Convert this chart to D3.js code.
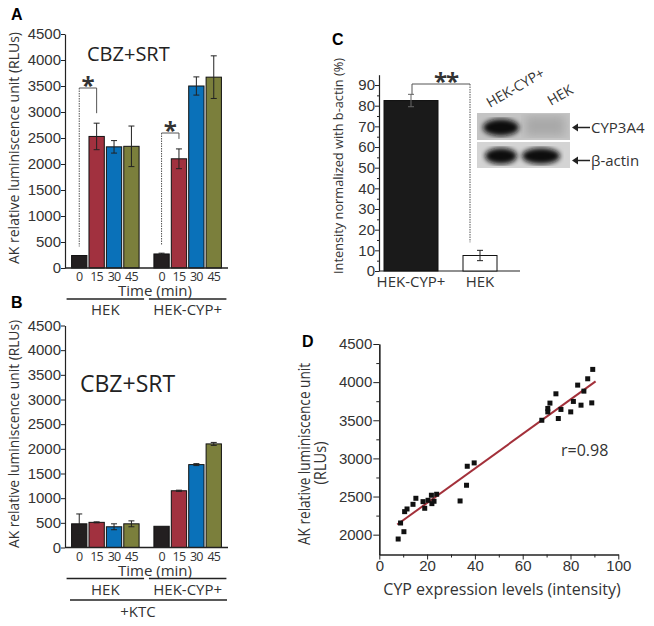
<!DOCTYPE html>
<html>
<head>
<meta charset="utf-8">
<script src="https://cdn.jsdelivr.net/npm/d3@7"></script>
<style>
  body { margin: 0; background: #fff; }
  svg { display: block; font-family: "Open Sans", sans-serif; }
  .tick text { font-size: 15px; fill: #333; }
  .tick line, .domain { stroke: #222; }
</style>
</head>
<body>
<div id="chart"></div>
<script>
"use strict";

// ---- data ----
var times = ["0", "15", "30", "45"];
var groups = ["HEK", "HEK-CYP+"];
var barColors = ["#231f20", "#a1313f", "#0a71b9", "#7b7f3c"];

// panel A : CBZ+SRT
var aHek = [240, 2530, 2330, 2340];
var aHekErr = [0, 255, 120, 390];
var aCyp = [270, 2100, 3500, 3670];
var aCypErr = [15, 190, 175, 410];

// panel B : CBZ+SRT +KTC
var bHek = [480, 510, 420, 480];
var bHekErr = [200, 10, 60, 60];
var bCyp = [430, 1150, 1680, 2100];
var bCypErr = [0, 12, 20, 30];

var abTicks = [0, 500, 1000, 1500, 2000, 2500, 3000, 3500, 4000, 4500];

// panel C
var cLabels = ["HEK-CYP+", "HEK"];
var cVals = [82.5, 7.5];
var cErr = [3, 2.5];
var cTicks = [0, 10, 20, 30, 40, 50, 60, 70, 80, 90];

// panel D : scatter
var dX = [7.9, 8.9, 10.3, 10.6, 11.6, 14.1, 15.3, 18.3, 19.0, 20.4, 21.8, 22.0, 22.9, 24.0,
          33.8, 36.5, 36.8, 39.7,
          68.0, 70.5, 70.5, 71.4, 73.9, 74.9, 76.0, 80.1, 81.2, 83.0, 84.4, 85.6, 87.2, 88.9, 89.3];
var dY = [1943, 2153, 2039, 2302, 2337, 2398, 2477, 2433, 2346, 2451, 2517, 2407, 2438, 2530,
          2442, 2648, 2897, 2941,
          3500, 3610, 3655, 3725, 3847, 3523, 3642, 3610, 3747, 3961, 3698, 3882, 4044, 3728, 4167];
var dXTicks = [0, 20, 40, 60, 80, 100];
var dYTicks = [2000, 2500, 3000, 3500, 4000, 4500];
var rText = "r=0.98";

var width = 654, height = 626;
var fmt = d3.format("d");

var svg = d3.select("#chart").append("svg")
  .attr("width", width)
  .attr("height", height);

function panelLetter(t, x, y) {
  svg.append("text").attr("x", x).attr("y", y)
    .attr("font-family", "Liberation Sans, Arial, sans-serif")
    .attr("font-weight", "bold").attr("font-size", 16)
    .text(t);
}

// rotated axis title, squeezed to the length seen in the figure
function yLabel(t, x, y, size, len) {
  svg.append("text")
    .attr("transform", "translate(" + x + "," + y + ") rotate(-90)")
    .attr("text-anchor", "middle")
    .attr("font-size", size)
    .attr("fill", "#333")
    .attr("textLength", len)
    .attr("lengthAdjust", "spacingAndGlyphs")
    .text(t);
}

// grouped bar panel (A and B)
function barPanel(opt) {
  var xg = d3.scaleBand().domain(groups).range([65, 228]).paddingInner(0.18).paddingOuter(0.08);
  var xt = d3.scaleBand().domain(times).range([0, xg.bandwidth()]).paddingInner(0.12);
  var y = d3.scaleLinear().domain([0, 4500]).range([opt.y0, opt.y1]);

  svg.append("g")
    .attr("transform", "translate(65,0)")
    .call(d3.axisLeft(y).tickValues(abTicks).tickFormat(fmt).tickSize(4).tickSizeOuter(0).tickPadding(0));

  var series = [
    { g: "HEK", v: opt.hek, e: opt.hekErr },
    { g: "HEK-CYP+", v: opt.cyp, e: opt.cypErr }
  ];

  series.forEach(function(s) {
    var gx = xg(s.g);
    var gr = svg.append("g").attr("transform", "translate(" + gx + ",0)");
    gr.selectAll("rect").data(s.v).enter().append("rect")
      .attr("x", function(d, i) { return xt(times[i]); })
      .attr("y", function(d) { return y(d); })
      .attr("width", xt.bandwidth())
      .attr("height", function(d) { return y(0) - y(d); })
      .attr("fill", function(d, i) { return barColors[i]; })
      .attr("stroke", "#111").attr("stroke-width", 1);
    // error bars
    gr.selectAll("g.err").data(s.v).enter().append("g").attr("class", "err")
      .each(function(d, i) {
        var e = s.e[i];
        if (!e) return;
        var cx = xt(times[i]) + xt.bandwidth() / 2;
        var g = d3.select(this);
        g.append("line").attr("x1", cx).attr("x2", cx).attr("y1", y(d + e)).attr("y2", y(d - e));
        g.append("line").attr("x1", cx - 3).attr("x2", cx + 3).attr("y1", y(d + e)).attr("y2", y(d + e));
        g.append("line").attr("x1", cx - 3).attr("x2", cx + 3).attr("y1", y(d - e)).attr("y2", y(d - e));
      })
      .attr("stroke", "#222").attr("stroke-width", 1);
    // time labels
    gr.selectAll("text.t").data(times).enter().append("text")
      .attr("x", function(d) { return xt(d) + xt.bandwidth() / 2; })
      .attr("y", y(0) + 13)
      .attr("text-anchor", "middle").attr("font-size", 12.5).attr("letter-spacing", -0.8)
      .attr("fill", "#333")
      .text(function(d) { return d; });
    // group line + label
    svg.append("line")
      .attr("x1", gx - 5).attr("x2", gx + xg.bandwidth() + 5)
      .attr("y1", y(0) + 31).attr("y2", y(0) + 31)
      .attr("stroke", "#222").attr("stroke-width", 1.5);
    svg.append("text")
      .attr("x", gx + xg.bandwidth() / 2).attr("y", y(0) + 47)
      .attr("text-anchor", "middle").attr("font-size", 15).attr("fill", "#333")
      .text(s.g);
  });

  // x axis line
  svg.append("line").attr("x1", 65).attr("x2", 228).attr("y1", y(0)).attr("y2", y(0))
    .attr("stroke", "#222").attr("stroke-width", 1.5);

  svg.append("text").attr("x", 155).attr("y", y(0) + 28)
    .attr("text-anchor", "middle").attr("font-size", 15).attr("fill", "#333")
    .text("Time (min)");

  svg.append("text").attr("x", opt.titleX).attr("y", opt.titleY)
    .attr("font-size", opt.titleSize).attr("fill", "#222")
    .text("CBZ+SRT");

  yLabel("AK relative luminiscence unit (RLUs)", 19, opt.labelY, 15, opt.labelLen);

  return { xg: xg, xt: xt, y: y };
}

// ---- panel A ----
panelLetter("A", 11, 20);
var A = barPanel({ y0: 268, y1: 34, hek: aHek, hekErr: aHekErr, cyp: aCyp, cypErr: aCypErr,
                   titleX: 87, titleY: 61, titleSize: 20, labelY: 148, labelLen: 232 });

function sigBracket(P, g, v0, v1, e1, topY, star) {
  var x0 = P.xg(g) + P.xt(times[0]) + P.xt.bandwidth() / 2;
  var x1 = P.xg(g) + P.xt(times[1]) + P.xt.bandwidth() / 2;
  svg.append("line").attr("x1", x0).attr("x2", x0).attr("y1", topY).attr("y2", P.y(v0) - 9)
    .attr("stroke", "#555").attr("stroke-dasharray", "1.5,1");
  svg.append("polyline")
    .attr("points", [[x0, topY], [x1, topY], [x1, P.y(v1 + e1) - 10]].join(" "))
    .attr("fill", "none").attr("stroke", "#555");
  svg.append("text").attr("x", (x0 + x1) / 2).attr("y", topY + 6)
    .attr("text-anchor", "middle").attr("font-size", 24).attr("font-weight", "bold")
    .attr("fill", "#333").text(star);
}
sigBracket(A, "HEK", aHek[0], aHek[1], aHekErr[1], 88, "*");
sigBracket(A, "HEK-CYP+", aCyp[0], aCyp[1], aCypErr[1], 133, "*");

// ---- panel B ----
panelLetter("B", 11, 308);
var B = barPanel({ y0: 547.5, y1: 325.5, hek: bHek, hekErr: bHekErr, cyp: bCyp, cypErr: bCypErr,
                   titleX: 80, titleY: 392, titleSize: 23, labelY: 434, labelLen: 228 });
svg.append("line").attr("x1", 70).attr("x2", 227).attr("y1", 600).attr("y2", 600)
  .attr("stroke", "#222").attr("stroke-width", 1.5);
svg.append("text").attr("x", 138).attr("y", 617).attr("text-anchor", "middle")
  .attr("font-size", 15).attr("fill", "#333").text("+KTC");

// ---- panel C ----
panelLetter("C", 332, 45);
var yC = d3.scaleLinear().domain([0, 95]).range([271, 74.7]);
var xC = d3.scalePoint().domain(cLabels).range([411, 480]);
var cBarW = [54, 34];

svg.append("g").attr("transform", "translate(379,0)")
  .call(d3.axisLeft(yC).tickValues(d3.range(5, 95, 10)).tickSize(2).tickSizeOuter(0).tickFormat(""));
svg.append("g").attr("transform", "translate(379,0)")
  .call(d3.axisLeft(yC).tickValues(cTicks).tickSize(4).tickSizeOuter(0).tickPadding(0))
  .select(".domain").remove();
svg.append("line").attr("x1", 379).attr("x2", 520).attr("y1", yC(0)).attr("y2", yC(0))
  .attr("stroke", "#222").attr("stroke-width", 1.2);

svg.selectAll("rect.c").data(cVals).enter().append("rect").attr("class", "c")
  .attr("x", function(d, i) { return xC(cLabels[i]) - cBarW[i] / 2; })
  .attr("y", function(d) { return yC(d); })
  .attr("width", function(d, i) { return cBarW[i]; })
  .attr("height", function(d) { return yC(0) - yC(d); })
  .attr("fill", function(d, i) { return i === 0 ? "#1a1a1a" : "#fff"; })
  .attr("stroke", "#111");

cVals.forEach(function(d, i) {
  var cx = xC(cLabels[i]), e = cErr[i];
  var g = svg.append("g").attr("stroke", i === 0 ? "#666" : "#222");
  g.append("line").attr("x1", cx).attr("x2", cx).attr("y1", yC(d + e)).attr("y2", yC(d - e));
  g.append("line").attr("x1", cx - 3).attr("x2", cx + 3).attr("y1", yC(d + e)).attr("y2", yC(d + e));
  g.append("line").attr("x1", cx - 3).attr("x2", cx + 3).attr("y1", yC(d - e)).attr("y2", yC(d - e));
});

svg.selectAll("text.cx").data(cLabels).enter().append("text")
  .attr("x", function(d) { return xC(d); }).attr("y", 287)
  .attr("text-anchor", "middle").attr("font-size", 15).attr("fill", "#333")
  .text(function(d) { return d; });

// ** bracket
var bx0 = xC(cLabels[0]) + 1, bx1 = 470, bTop = 84;
svg.append("polyline")
  .attr("points", [[bx0, yC(cVals[0] + cErr[0])], [bx0, bTop], [bx1, bTop]].join(" "))
  .attr("fill", "none").attr("stroke", "#555");
svg.append("line").attr("x1", bx1).attr("x2", bx1).attr("y1", bTop)
  .attr("y2", yC(cVals[1] + cErr[1]) - 8)
  .attr("stroke", "#555").attr("stroke-dasharray", "1.5,1");
svg.append("text").attr("x", 446).attr("y", 90).attr("text-anchor", "middle")
  .attr("font-size", 24).attr("font-weight", "bold").attr("fill", "#333")
  .attr("letter-spacing", -1).text("**");

yLabel("Intensity normalized with b-actin (%)", 343, 166, 13, 216);

// western blot inset
var defs = svg.append("defs");
defs.append("filter").attr("id", "blur").append("feGaussianBlur").attr("stdDeviation", 2.5);
defs.append("filter").attr("id", "blur2").append("feGaussianBlur").attr("stdDeviation", 5);
var blot = svg.append("g");
blot.append("rect").attr("x", 477).attr("y", 113).attr("width", 93).attr("height", 27).attr("fill", "#c4c4c4");
blot.append("rect").attr("x", 477).attr("y", 142).attr("width", 93).attr("height", 26).attr("fill", "#d4d4d4");
blot.append("rect").attr("x", 525).attr("y", 116).attr("width", 40).attr("height", 20)
  .attr("fill", "#a9a9a9").attr("filter", "url(#blur2)");
blot.append("ellipse").attr("cx", 501).attr("cy", 127.5).attr("rx", 18).attr("ry", 8.5)
  .attr("fill", "#111").attr("filter", "url(#blur)");
blot.append("ellipse").attr("cx", 501).attr("cy", 156).attr("rx", 16).attr("ry", 8)
  .attr("fill", "#111").attr("filter", "url(#blur)");
blot.append("ellipse").attr("cx", 541).attr("cy", 156).attr("rx", 19).attr("ry", 8)
  .attr("fill", "#111").attr("filter", "url(#blur)");

svg.append("text").attr("transform", "translate(490,108) rotate(-30)")
  .attr("font-size", 14).attr("fill", "#333").text("HEK-CYP+");
svg.append("text").attr("transform", "translate(551,106) rotate(-30)")
  .attr("font-size", 14).attr("fill", "#333").text("HEK");

function arrowLabel(t, y) {
  svg.append("line").attr("x1", 574).attr("x2", 590).attr("y1", y).attr("y2", y)
    .attr("stroke", "#222").attr("stroke-width", 1.5);
  svg.append("path").attr("d", "M572," + y + " l6,-4 l0,8 z").attr("fill", "#222");
  svg.append("text").attr("x", 591).attr("y", y + 5).attr("font-size", 15).attr("fill", "#333").text(t);
}
arrowLabel("CYP3A4", 127.5);
arrowLabel("\u03b2-actin", 160.5);

// ---- panel D ----
panelLetter("D", 302, 347);
var xD = d3.scaleLinear().domain([0, 100]).range([379.3, 618.3]);
var yD = d3.scaleLinear().domain([1740, 4500]).range([554.5, 344]);

svg.append("g").attr("transform", "translate(379.3,0)")
  .call(d3.axisLeft(yD).tickValues(d3.range(2250, 4500, 500)).tickSize(3).tickSizeOuter(0).tickFormat(""));
svg.append("g").attr("transform", "translate(379.3,0)")
  .call(d3.axisLeft(yD).tickValues(dYTicks).tickFormat(fmt).tickSize(6).tickSizeOuter(0).tickPadding(1));
svg.append("g").attr("transform", "translate(0,554.5)")
  .call(d3.axisBottom(xD).tickValues(d3.range(10, 100, 20)).tickSize(3).tickSizeOuter(0).tickFormat(""));
svg.append("g").attr("transform", "translate(0,554.5)")
  .call(d3.axisBottom(xD).tickValues(dXTicks).tickSize(5).tickSizeOuter(0).tickPadding(1));
svg.selectAll(".domain").attr("stroke-width", 1.2);

// least squares fit
var pts = dX.map(function(x, i) { return [x, dY[i]]; });
var mx = d3.mean(dX), my = d3.mean(dY);
var sxy = d3.sum(pts, function(p) { return (p[0] - mx) * (p[1] - my); });
var sxx = d3.sum(dX, function(x) { return (x - mx) * (x - mx); });
var slope = sxy / sxx, icpt = my - slope * mx;
var fitX = [d3.min(dX) - 0.4, d3.max(dX) + 1.2];
svg.append("line")
  .attr("x1", xD(fitX[0])).attr("y1", yD(icpt + slope * fitX[0]))
  .attr("x2", xD(fitX[1])).attr("y2", yD(icpt + slope * fitX[1]))
  .attr("stroke", "#a3303a").attr("stroke-width", 2);

svg.selectAll("rect.pt").data(pts).enter().append("rect").attr("class", "pt")
  .attr("x", function(d) { return xD(d[0]) - 2.5; })
  .attr("y", function(d) { return yD(d[1]) - 2.5; })
  .attr("width", 5).attr("height", 5).attr("fill", "#111");

svg.append("text").attr("x", 561).attr("y", 456).attr("font-size", 16).attr("fill", "#333").text(rText);
svg.append("text").attr("x", 502).attr("y", 595).attr("text-anchor", "middle")
  .attr("font-size", 16).attr("fill", "#333").text("CYP expression levels (intensity)");
yLabel("AK relative luminiscence unit", 310, 454, 16, 182);
yLabel("(RLUs)", 326, 463, 16, 43);
</script>
</body>
</html>
